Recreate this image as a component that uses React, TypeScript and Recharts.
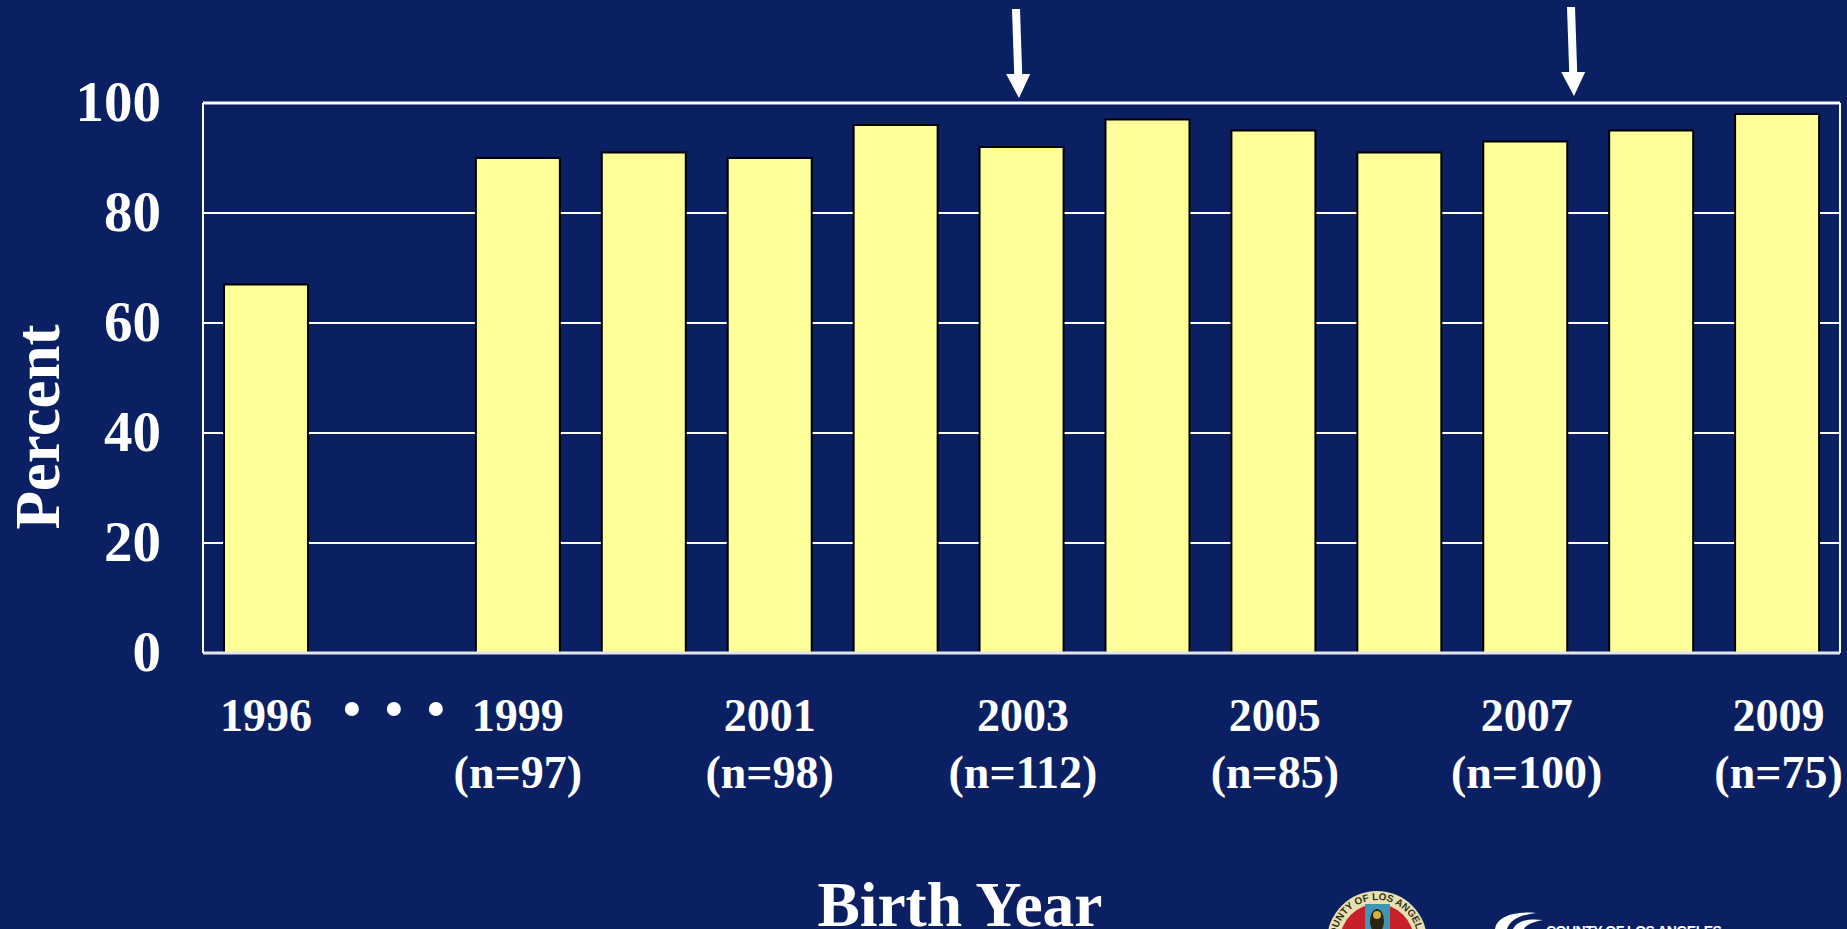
import React from "react";
import { BarChart, Bar, XAxis, YAxis, CartesianGrid, ReferenceLine } from "recharts";

const SERIF = '"Liberation Serif", serif';
const SANS = '"Liberation Sans", sans-serif';
const NAVY = "#0A2063";
const GAP = "gap";

const categories = ["1996", GAP, "1999", "2000", "2001", "2002", "2003", "2004", "2005", "2006", "2007", "2008", "2009"];
const percents = [67, null, 90, 91, 90, 96, 92, 97, 95, 91, 93, 95, 98];
const labelled = ["1996", "1999", "2001", "2003", "2005", "2007", "2009"];
const sampleSizes: Record<string, string> = {
  "1999": "(n=97)",
  "2001": "(n=98)",
  "2003": "(n=112)",
  "2005": "(n=85)",
  "2007": "(n=100)",
  "2009": "(n=75)",
};
const yTicks = [0, 20, 40, 60, 80, 100];

const rows = categories.map((year, i) => ({ year, percent: percents[i] }));

function YearTick({ x, y, payload }: any) {
  const value = payload.value;
  if (value === GAP) {
    return (
      <g fill="#fff">
        <circle cx={x - 40} cy={y + 48} r={7} />
        <circle cx={x + 2} cy={y + 48} r={7} />
        <circle cx={x + 44} cy={y + 48} r={7} />
      </g>
    );
  }
  if (!labelled.includes(value)) return null;
  const nudge = Number(value) >= 2003 ? 1.5 : 0;
  return (
    <text x={x + nudge} textAnchor="middle" fill="#fff" fontFamily={SERIF} fontWeight="bold" fontSize={46}>
      <tspan x={x + nudge} y={731}>{value}</tspan>
      {sampleSizes[value] ? <tspan x={x + nudge} y={788}>{sampleSizes[value]}</tspan> : null}
    </text>
  );
}

function Arrow({ x1, y1, x2, y2 }: { x1: number; y1: number; x2: number; y2: number }) {
  const headTop = y2 - 24;
  const shaftX = x1 + ((x2 - x1) * (headTop - y1)) / (y2 - y1);
  return (
    <g fill="#fff">
      <polygon points={`${x1 - 4},${y1} ${x1 + 4},${y1} ${shaftX + 4},${headTop} ${shaftX - 4},${headTop}`} />
      <polygon points={`${shaftX - 12},${headTop} ${shaftX + 12},${headTop} ${x2},${y2}`} />
    </g>
  );
}

export default function App() {
  return (
    <div style={{ position: "absolute", left: 0, top: 0, width: 1847, height: 929, background: NAVY, overflow: "hidden" }}>
      <BarChart
        width={1847}
        height={929}
        data={rows}
        margin={{ top: 103, right: 0, bottom: 0, left: 0 }}
        barCategoryGap="16.7%"
      >
        <CartesianGrid horizontal vertical={false} stroke="#fff" strokeWidth={2} syncWithTicks />
        <XAxis
          dataKey="year"
          interval={0}
          height={276}
          axisLine={{ stroke: "#E4E6EE", strokeWidth: 3 }}
          tickLine={false}
          tick={<YearTick />}
        />
        <YAxis
          width={203}
          domain={[0, 100]}
          ticks={yTicks}
          axisLine={{ stroke: "#fff", strokeWidth: 2 }}
          tickLine={false}
          tickMargin={36}
          tick={{ fill: "#fff", fontFamily: SERIF, fontWeight: "bold", fontSize: 57, dy: -2 }}
        />
        <YAxis
          yAxisId="frame"
          orientation="right"
          width={7}
          domain={[0, 100]}
          ticks={yTicks}
          axisLine={{ stroke: "#fff", strokeWidth: 2 }}
          tickLine={false}
          tick={false}
        />
        <ReferenceLine y={100} stroke="#fff" strokeWidth={3} />
        <Bar dataKey="percent" fill="#FFFF99" stroke="#000" strokeWidth={2} isAnimationActive={false} />
      </BarChart>

      <svg width={1847} height={929} style={{ position: "absolute", left: 0, top: 0, pointerEvents: "none" }}>
        <text
          transform="translate(59 427) rotate(-90)"
          textAnchor="middle"
          fill="#fff"
          fontFamily={SERIF}
          fontWeight="bold"
          fontSize={63}
        >
          Percent
        </text>
        <text x={960} y={926} textAnchor="middle" fill="#fff" fontFamily={SERIF} fontWeight="bold" fontSize={63.5}>
          Birth Year
        </text>
        <Arrow x1={1016} y1={9} x2={1019} y2={98} />
        <Arrow x1={1571} y1={7} x2={1574} y2={96} />

        <circle cx={1377} cy={941} r={50} fill="#E8E0B0" />
        <circle cx={1377} cy={941} r={37} fill="#C8202A" />
        <rect x={1365} y={904} width={25} height={26} fill="#3F97B5" />
        <ellipse cx={1377} cy={921} rx={7} ry={12} fill="#2A2410" />
        <ellipse cx={1377} cy={915} rx={4} ry={4} fill="#D8B040" />
        <defs>
          <path id="sealArc" d="M1336 941 A41 41 0 0 1 1418 941" />
        </defs>
        <text fill="#33301A" fontFamily={SANS} fontWeight="bold" fontSize={10}>
          <textPath href="#sealArc" startOffset="50%" textAnchor="middle">COUNTY OF LOS ANGELES</textPath>
        </text>
        <path d="M1495 929 C1497 917 1512 911 1536 913 C1520 915 1510 920 1507 929 Z" fill="#fff" />
        <path d="M1513 929 C1517 921 1528 918 1543 920 C1532 922 1526 925 1524 929 Z" fill="#fff" />
        <text x={1546} y={936} fill="#fff" fontFamily={SANS} fontWeight="bold" fontSize={14} letterSpacing={-0.5}>
          COUNTY OF LOS ANGELES
        </text>
      </svg>
    </div>
  );
}
